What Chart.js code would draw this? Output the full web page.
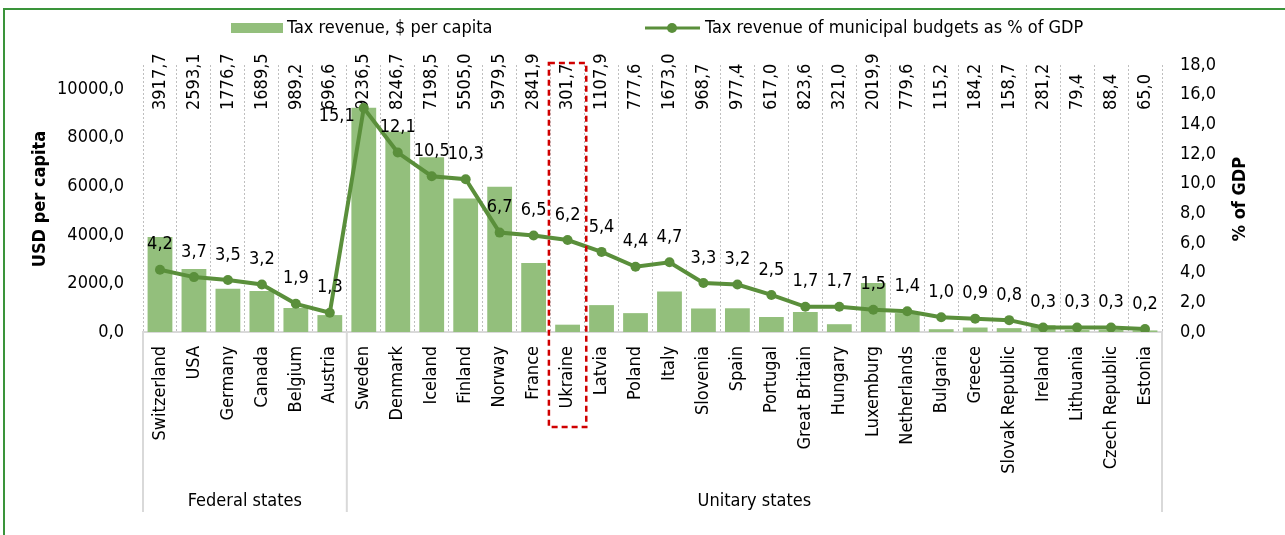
<!DOCTYPE html>
<html><head><meta charset="utf-8">
<script src="https://cdn.jsdelivr.net/npm/chart.js@4.4.1/dist/chart.umd.min.js"></script>
<style>html,body{margin:0;padding:0;background:#fff;}canvas{display:block;}</style>
</head><body>
<canvas id="c" width="1285" height="535"></canvas>
<script>
const countries = ['Switzerland','USA','Germany','Canada','Belgium','Austria','Sweden','Denmark','Iceland','Finland','Norway','France','Ukraine','Latvia','Poland','Italy','Slovenia','Spain','Portugal','Great Britain','Hungary','Luxemburg','Netherlands','Bulgaria','Greece','Slovak Republic','Ireland','Lithuania','Czech Republic','Estonia'];
const groupNames = ['Federal states','Unitary states'];
const groupSizes = [6, 24];
const revenuePerCapita = [3917.7,2593.1,1776.7,1689.5,989.2,696.6,9236.5,8246.7,7198.5,5505.0,5979.5,2841.9,301.7,1107.9,777.6,1673.0,968.7,977.4,617.0,823.6,321.0,2019.9,779.6,115.2,184.2,158.7,281.2,79.4,88.4,65.0];
const revenueShareGDP = [4.2,3.7,3.5,3.2,1.9,1.3,15.1,12.1,10.5,10.3,6.7,6.5,6.2,5.4,4.4,4.7,3.3,3.2,2.5,1.7,1.7,1.5,1.4,1.0,0.9,0.8,0.3,0.3,0.3,0.2];
const leftTicks = [0,2000,4000,6000,8000,10000];
const rightTicks = [0,2,4,6,8,10,12,14,16,18];
const highlightCountry = 'Ukraine';
const seriesNames = ['Tax revenue, $ per capita','Tax revenue of municipal budgets as % of GDP'];
const axisTitles = ['USD per capita','% of GDP'];

const FONT = "'DejaVu Sans Condensed','DejaVu Sans',sans-serif";
const FS = 18;
const BAR = '#93bf7c';
const LINE = '#5a8f3b';
const fmt = v => v.toFixed(1).replace('.', ',');

const deco = {
  id: 'deco',
  beforeDraw(chart) {
    const ctx = chart.ctx;
    ctx.save();
    ctx.fillStyle = '#fff';
    ctx.fillRect(0, 0, chart.width, chart.height);
    ctx.strokeStyle = '#3a943a';
    ctx.lineWidth = 2;
    ctx.beginPath();
    ctx.moveTo(4, chart.height);
    ctx.lineTo(4, 9);
    ctx.lineTo(chart.width, 9);
    ctx.stroke();
    ctx.restore();
  },
  beforeDatasetsDraw(chart) {
    const x = chart.scales.x, ctx = chart.ctx, ca = chart.chartArea;
    ctx.save();
    ctx.font = FS + 'px ' + FONT;
    ctx.fillStyle = '#000';
    ctx.textAlign = 'left';
    ctx.textBaseline = 'middle';
    revenuePerCapita.forEach((v, i) => {
      ctx.save();
      ctx.translate(x.getPixelForValue(i), ca.top + 45);
      ctx.rotate(-Math.PI / 2);
      ctx.fillText(fmt(v), 0, 0);
      ctx.restore();
    });
    ctx.restore();
  },
  afterDatasetsDraw(chart) {
    const x = chart.scales.x, ctx = chart.ctx, ca = chart.chartArea;
    const w = x.getPixelForValue(1) - x.getPixelForValue(0);
    ctx.save();
    ctx.font = FS + 'px ' + FONT;
    ctx.fillStyle = '#000';
    ctx.textBaseline = 'middle';
    const meta = chart.getDatasetMeta(1);
    const peakVal = Math.max(...revenueShareGDP);
    meta.data.forEach((pt, i) => {
      if (revenueShareGDP[i] === peakVal) { ctx.textAlign = 'right'; ctx.fillText(fmt(revenueShareGDP[i]), pt.x - 9, pt.y + 8); }
      else { ctx.textAlign = 'center'; ctx.fillText(fmt(revenueShareGDP[i]), pt.x, pt.y - 25); }
    });
    ctx.strokeStyle = '#d9d9d9';
    ctx.lineWidth = 2;
    let start = 0;
    const bounds = [x.getPixelForValue(0) - w / 2];
    groupSizes.forEach(n => { start += n; bounds.push(x.getPixelForValue(start - 1) + w / 2); });
    bounds.forEach(b => { ctx.beginPath(); ctx.moveTo(b, ca.bottom); ctx.lineTo(b, ca.bottom + 180); ctx.stroke(); });
    ctx.textAlign = 'center';
    groupNames.forEach((g, k) => ctx.fillText(g, (bounds[k] + bounds[k + 1]) / 2, ca.bottom + 169));
    const hi = x.getPixelForValue(countries.indexOf(highlightCountry));
    ctx.strokeStyle = '#d00000';
    ctx.lineWidth = 2.5;
    ctx.setLineDash([6, 4]);
    ctx.strokeRect(hi - w * 0.55, ca.top - 2, w * 1.1, ca.bottom - ca.top + 97);
    ctx.setLineDash([]);
    ctx.font = 'bold ' + FS + 'px ' + FONT;
    [[40, axisTitles[0]], [1240, axisTitles[1]]].forEach(([tx, t]) => {
      ctx.save();
      ctx.translate(tx, 199);
      ctx.rotate(-Math.PI / 2);
      ctx.fillText(t, 0, 0);
      ctx.restore();
    });
    ctx.font = FS + 'px ' + FONT;
    ctx.textAlign = 'left';
    ctx.fillStyle = BAR;
    ctx.fillRect(231, 23, 52, 10);
    ctx.fillStyle = '#000';
    ctx.fillText(seriesNames[0], 287, 28);
    ctx.strokeStyle = LINE;
    ctx.lineWidth = 3;
    ctx.beginPath(); ctx.moveTo(645, 28); ctx.lineTo(700, 28); ctx.stroke();
    ctx.fillStyle = LINE;
    ctx.beginPath(); ctx.arc(672, 28, 5, 0, Math.PI * 2); ctx.fill();
    ctx.fillStyle = '#000';
    ctx.fillText(seriesNames[1], 705, 28);
    ctx.restore();
  }
};

Chart.defaults.font.family = FONT;
Chart.defaults.font.size = FS;
Chart.defaults.color = '#000';

new Chart(document.getElementById('c'), {
  type: 'bar',
  data: {
    labels: countries,
    datasets: [
      { type: 'bar', label: seriesNames[0], data: revenuePerCapita, backgroundColor: BAR, yAxisID: 'y', order: 1, barPercentage: 0.73, categoryPercentage: 1 },
      { type: 'line', label: seriesNames[1], data: revenueShareGDP, borderColor: LINE, backgroundColor: LINE, borderWidth: 4, pointRadius: 5, pointBackgroundColor: LINE, pointBorderWidth: 0, tension: 0, yAxisID: 'y2', order: 0 }
    ]
  },
  options: {
    responsive: false,
    animation: false,
    devicePixelRatio: 1,
    layout: { padding: { top: 65, left: 0, right: 0, bottom: 0 } },
    plugins: { legend: { display: false }, tooltip: { enabled: false } },
    scales: {
      x: {
        offset: true,
        grid: { color: '#bfbfbf', lineWidth: 1, drawTicks: false, offset: true },
        border: { display: true, color: '#d9d9d9', width: 2, dash: [2, 2] },
        ticks: { maxRotation: 90, minRotation: 90, autoSkip: false, padding: 14 },
        afterFit(s) { s.height = 203; }
      },
      y: {
        position: 'left', min: 0, max: 11000,
        grid: { display: false, drawTicks: false },
        border: { display: false },
        ticks: { padding: 19, callback: v => fmt(v) },
        afterBuildTicks(s) { s.ticks = leftTicks.map(v => ({ value: v })); },
        afterFit(s) { s.width = 143; }
      },
      y2: {
        position: 'right', min: 0, max: 18,
        grid: { display: false, drawTicks: false },
        border: { display: false },
        ticks: { padding: 18, callback: v => fmt(v) },
        afterBuildTicks(s) { s.ticks = rightTicks.map(v => ({ value: v })); },
        afterFit(s) { s.width = 123; }
      }
    }
  },
  plugins: [deco]
});
</script>
</body></html>
